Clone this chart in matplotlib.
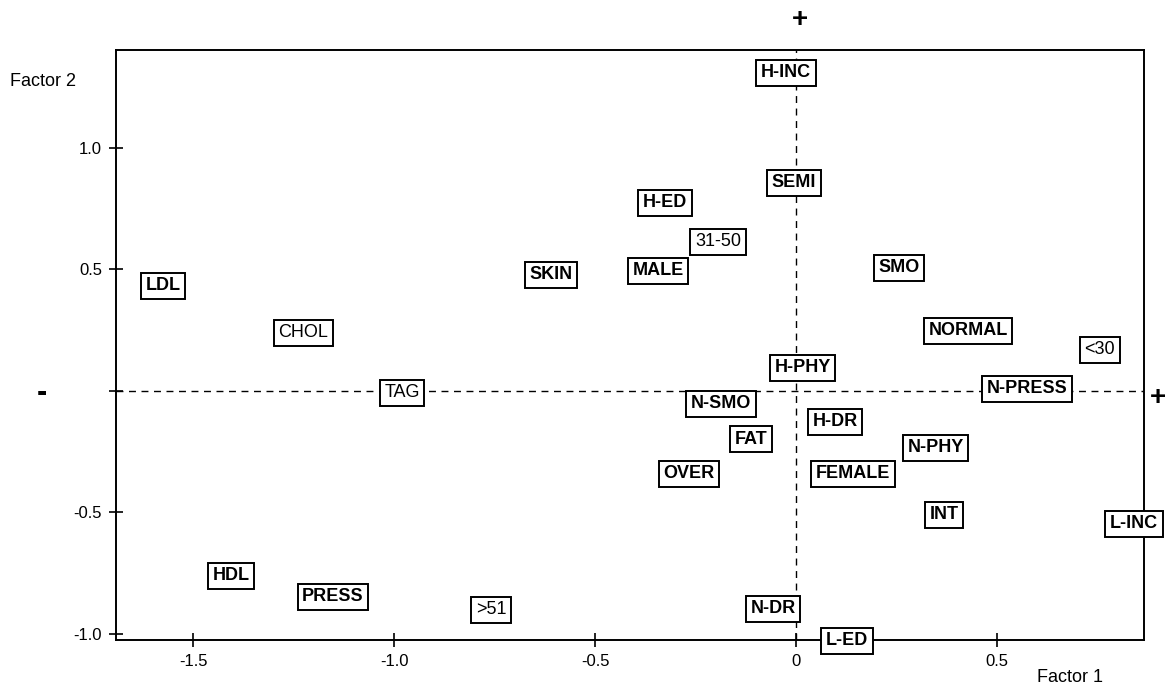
import matplotlib
matplotlib.use('Agg')
import matplotlib.pyplot as plt

plt.rcParams['font.family'] = ['Liberation Sans', 'DejaVu Sans']

labels = ['H-INC', 'SEMI', 'H-ED', '31-50', 'SKIN', 'MALE', 'SMO', 'LDL', 'CHOL',
          'NORMAL', '<30', 'H-PHY', 'TAG', 'N-PRESS', 'N-SMO', 'H-DR', 'FAT',
          'N-PHY', 'OVER', 'FEMALE', 'INT', 'L-INC', 'HDL', 'PRESS', '>51',
          'N-DR', 'L-ED']
factor1 = [-0.025, -0.005, -0.326, -0.194, -0.609, -0.343, 0.256, -1.575, -1.226,
           0.428, 0.756, 0.017, -0.98, 0.575, -0.187, 0.097, -0.112,
           0.348, -0.266, 0.142, 0.368, 0.841, -1.405, -1.152, -0.759,
           -0.057, 0.127]
factor2 = [1.31, 0.856, 0.774, 0.613, 0.477, 0.494, 0.506, 0.432, 0.239,
           0.247, 0.169, 0.095, -0.008, 0.008, -0.053, -0.128, -0.2,
           -0.235, -0.342, -0.342, -0.51, -0.547, -0.761, -0.848, -0.901,
           -0.897, -1.029]

xticks = [-1.5, -1.0, -0.5, 0, 0.5]
xticklabels = ['-1.5', '-1.0', '-0.5', '0', '0.5']
yticks = [-1.0, -0.5, 0, 0.5, 1.0]
yticklabels = ['-1.0', '-0.5', '', '0.5', '1.0']

light = {'31-50', 'TAG', '<30', '>51', 'CHOL'}

fig = plt.figure(figsize=(11.68, 6.86), dpi=100)
ax = fig.add_axes([116/1168, 1 - 640/686, (1144-116)/1168, (640-50)/686])
ax.set_xlim(-1.692, 0.866)
ax.set_ylim(-1.026, 1.403)

# reference lines through the origin
ax.axhline(0, color='black', lw=1, ls=(0, (5, 4)), zorder=1)
ax.axvline(0, color='black', lw=1, ls=(0, (5, 4)), zorder=1)

for sp in ax.spines.values():
    sp.set_linewidth(1.4)
    sp.set_zorder(2)

ax.set_xticks(xticks)
ax.set_xticklabels(xticklabels)
ax.set_yticks(yticks)
ax.set_yticklabels(yticklabels)
ax.tick_params(direction='inout', length=10, width=1.2, labelsize=12, pad=5)

for name, x, y in zip(labels, factor1, factor2):
    w = 'normal' if name in light else 'bold'
    ax.text(x, y, name, ha='center', va='center', fontsize=13, fontweight=w,
            zorder=5, clip_on=False,
            bbox=dict(boxstyle='square,pad=0.25', fc='white', ec='black', lw=1.4))

fig.text(10/1168, 1 - 82/686, 'Factor 2', ha='left', va='center', fontsize=13)
fig.text(1070/1168, 1 - 677/686, 'Factor 1', ha='center', va='center', fontsize=13)
fig.text(800/1168, 1 - 20/686, '+', ha='center', va='center', fontsize=20, fontweight='bold')
fig.text(42/1168, 1 - 393/686, '-', ha='center', va='center', fontsize=22, fontweight='bold')
fig.text(1158/1168, 1 - 398/686, '+', ha='center', va='center', fontsize=20, fontweight='bold')

fig.savefig('out.png', dpi=100)
